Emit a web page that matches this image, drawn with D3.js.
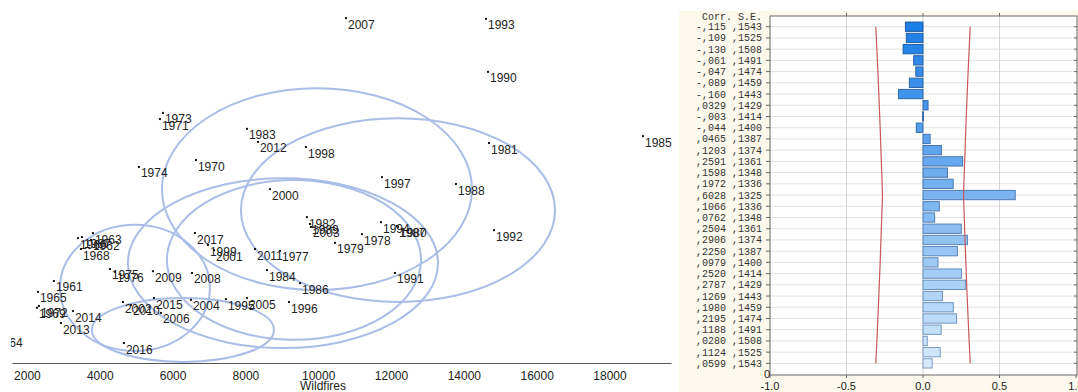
<!DOCTYPE html>
<html>
<head>
<meta charset="utf-8">
<script src="https://cdn.jsdelivr.net/npm/d3@7"></script>
<style>
  html, body { margin: 0; padding: 0; background: #fff; }
  svg { display: block; }
</style>
</head>
<body>
<svg id="chart" width="1078" height="392"></svg>
<script>
// ---------- Scatter: wildfires by year ----------
const years = d3.range(1961, 2018);
const wildfires = [
  2742, 3758, 3813, 1093, 2302, 3401, 3511, 3483, 2275, 6642,
  5653, 2329, 5736, 5076, 4280, 4417, 8950, 11202, 10461, 12191,
  14691, 9691, 8043, 8593, 18921, 9499, 12164, 13784, 9774, 14664,
  12109, 14828, 14609, 11724, 7466, 9197, 11752, 9664, 6972, 8675,
  7137, 4637, 9801, 6505, 8043, 5681, 10763, 6532, 5461, 4857,
  8263, 8345, 2934, 3263, 5488, 4664, 6615
];
const secondScore = [
  22.6, 33.9, 35.8, 7.2, 19.6, 34.4, 34.7, 31.4, 15.2, 55.9,
  67.2, 15.7, 68.9, 54.0, 25.9, 25.1, 30.9, 35.5, 33.1, 37.5,
  60.6, 40.2, 64.5, 25.6, 62.5, 22.0, 37.7, 49.3, 38.3, 80.2,
  24.8, 36.6, 94.8, 38.8, 17.6, 16.8, 51.2, 59.5, 32.5, 47.9,
  31.1, 16.8, 37.5, 17.4, 17.9, 13.8, 95.0, 24.8, 25.3, 16.0,
  31.4, 60.9, 11.0, 14.3, 17.9, 5.5, 35.8
];
const xTicks = [2000, 4000, 6000, 8000, 10000, 12000, 14000, 16000, 18000];

// Cluster ellipses (centre and radii in data units)
const ellCx = [9966, 12191, 9032, 9334, 4967, 6285];
const ellCy = [47.9, 42.1, 27.5, 28.4, 20.7, 9.1];
const ellRx = [4258, 4313, 4258, 3489, 2060, 2500];
const ellRy = [27.8, 25.3, 23.4, 22.0, 17.4, 8.8];

// ---------- Cross-correlation panel ----------
const lags = d3.range(-15, 16);
const corrLabels = ["-,115","-,109","-,130","-,061","-,047","-,089","-,160",",0329","-,003","-,044",
  ",0465",",1203",",2591",",1598",",1972",",6028",",1066",",0762",",2504",",2906",
  ",2250",",0979",",2520",",2787",",1269",",1980",",2195",",1188",",0280",",1124",",0599"];
const seLabels = [",1543",",1525",",1508",",1491",",1474",",1459",",1443",",1429",",1414",",1400",
  ",1387",",1374",",1361",",1348",",1336",",1325",",1336",",1348",",1361",",1374",
  ",1387",",1400",",1414",",1429",",1443",",1459",",1474",",1491",",1508",",1525",",1543"];
const corrTicks = [-1.0, -0.5, 0.0, 0.5, 1.0];

const parseComma = s => +s.replace(",", ".");
const corr = corrLabels.map(parseComma);
const se = seLabels.map(parseComma);

const svg = d3.select("#chart");
const sans = "'Liberation Sans', Arial, Helvetica, sans-serif";
const mono = "'Liberation Mono', 'Courier New', monospace";

// ===== Left: scatter =====
const x = d3.scaleLinear().domain([1590, 19690]).range([12, 671]);
const y = d3.scaleLinear().domain([0, 100]).range([363, 0]);

svg.append("defs").append("clipPath").attr("id", "plotClip")
  .append("rect").attr("x", 11).attr("y", 0).attr("width", 669).attr("height", 363);

const scatter = svg.append("g").attr("clip-path", "url(#plotClip)");

scatter.selectAll("ellipse")
  .data(d3.range(ellCx.length))
  .join("ellipse")
  .attr("cx", i => x(ellCx[i]))
  .attr("cy", i => y(ellCy[i]))
  .attr("rx", i => x(ellCx[i] + ellRx[i]) - x(ellCx[i]))
  .attr("ry", i => y(ellCy[i]) - y(ellCy[i] + ellRy[i]))
  .attr("fill", "none")
  .attr("stroke", "#a9bde6")
  .attr("stroke-width", 2);

const pts = years.map((yr, i) => ({ yr, w: wildfires[i], s: secondScore[i] }));

scatter.selectAll("rect.pt")
  .data(pts)
  .join("rect")
  .attr("class", "pt")
  .attr("x", d => x(d.w) - 1)
  .attr("y", d => y(d.s) - 1)
  .attr("width", 2)
  .attr("height", 2)
  .attr("fill", "#111");

scatter.selectAll("text.lbl")
  .data(pts)
  .join("text")
  .attr("class", "lbl")
  .attr("x", d => x(d.w) + 2)
  .attr("y", d => y(d.s) + 10.5)
  .attr("font-family", sans)
  .attr("font-size", 12)
  .attr("fill", "#222")
  .text(d => d.yr);

const xAxis = svg.append("g")
  .attr("transform", "translate(0,363)")
  .call(d3.axisBottom(x).tickValues(xTicks).tickSize(0).tickSizeOuter(0).tickPadding(8).tickFormat(d3.format("d")));
xAxis.select(".domain").attr("stroke", "#555").attr("stroke-width", 1);
xAxis.selectAll("text").attr("font-family", sans).attr("font-size", 12).attr("fill", "#222");

svg.append("text")
  .attr("x", 323).attr("y", 390)
  .attr("text-anchor", "middle")
  .attr("font-family", sans).attr("font-size", 12).attr("fill", "#222")
  .text("Wildfires");

// ===== Right: cross-correlation bars =====
const panel = svg.append("g");
panel.append("rect")
  .attr("x", 679).attr("y", 11).attr("width", 399).attr("height", 381)
  .attr("fill", "#fcf8eb");

const pLeft = 770, pRight = 1077, pTop = 16, pBottom = 375;
const cx = d3.scaleLinear().domain([-1, 1]).range([pLeft, 1076]);
const cy = d3.scaleBand().domain(lags).range([21.1, 369.0]).paddingInner(0.17).paddingOuter(0.085);
const rowC = l => cy(l) + cy.bandwidth() / 2;

panel.append("rect")
  .attr("x", pLeft).attr("y", pTop).attr("width", pRight - pLeft).attr("height", pBottom - pTop)
  .attr("fill", "#fff");

// grid lines
panel.selectAll("line.hg")
  .data(lags)
  .join("line")
  .attr("class", "hg")
  .attr("x1", pLeft).attr("x2", pRight)
  .attr("y1", rowC).attr("y2", rowC)
  .attr("stroke", "#e2e2e2").attr("stroke-width", 1);

panel.selectAll("line.vg")
  .data([-0.5, 0, 0.5])
  .join("line")
  .attr("class", "vg")
  .attr("x1", d => cx(d)).attr("x2", d => cx(d))
  .attr("y1", pTop).attr("y2", pBottom)
  .attr("stroke", "#d6d6d6").attr("stroke-width", 1);

// bars
const fillCol = d3.interpolateRgb("#1b7de6", "#d6eafb");
const strokeCol = d3.interpolateRgb("#1d5aa0", "#7f9ec6");
panel.selectAll("rect.bar")
  .data(lags.map((l, i) => ({ l, i, c: corr[i] })))
  .join("rect")
  .attr("class", "bar")
  .attr("x", d => cx(Math.min(0, d.c)))
  .attr("y", d => cy(d.l))
  .attr("width", d => Math.max(1, Math.abs(cx(d.c) - cx(0))))
  .attr("height", cy.bandwidth())
  .attr("fill", d => fillCol(d.i / (lags.length - 1)))
  .attr("stroke", d => strokeCol(d.i / (lags.length - 1)))
  .attr("stroke-width", 1);

// ±2 S.E. confidence limits
const limLine = sign => d3.line()
  .x((l, i) => cx(sign * 2 * se[i]))
  .y(l => rowC(l));
[-1, 1].forEach(sg => {
  panel.append("path")
    .attr("d", limLine(sg)(lags))
    .attr("fill", "none")
    .attr("stroke", "#c8585c")
    .attr("stroke-width", 1.2);
});

// frame
panel.append("rect")
  .attr("x", pLeft).attr("y", pTop).attr("width", pRight - pLeft).attr("height", pBottom - pTop)
  .attr("fill", "none").attr("stroke", "#666").attr("stroke-width", 1);

// ticks
panel.selectAll("line.lt")
  .data(lags)
  .join("line")
  .attr("class", "lt")
  .attr("x1", pLeft - 4).attr("x2", pLeft)
  .attr("y1", rowC).attr("y2", rowC)
  .attr("stroke", "#666");
panel.selectAll("line.rt")
  .data(lags)
  .join("line")
  .attr("class", "rt")
  .attr("x1", pRight - 3).attr("x2", pRight)
  .attr("y1", rowC).attr("y2", rowC)
  .attr("stroke", "#666");
panel.selectAll("line.tt")
  .data([-0.5, 0, 0.5])
  .join("line")
  .attr("class", "tt")
  .attr("x1", d => cx(d)).attr("x2", d => cx(d))
  .attr("y1", pTop - 3).attr("y2", pTop)
  .attr("stroke", "#666");
panel.selectAll("line.bt")
  .data(corrTicks)
  .join("line")
  .attr("class", "bt")
  .attr("x1", d => cx(d)).attr("x2", d => cx(d))
  .attr("y1", pBottom).attr("y2", pBottom + 3)
  .attr("stroke", "#666");

// row labels
panel.append("text")
  .attr("x", 762).attr("y", 19.5)
  .attr("text-anchor", "end")
  .attr("font-family", mono).attr("font-size", 10).attr("fill", "#333")
  .text("Corr. S.E.");
panel.selectAll("text.row")
  .data(lags.map((l, i) => ({ l, i })))
  .join("text")
  .attr("class", "row")
  .attr("x", 762)
  .attr("y", d => rowC(d.l) + 3.5)
  .attr("text-anchor", "end")
  .attr("font-family", mono).attr("font-size", 10).attr("fill", "#333")
  .text(d => corrLabels[d.i] + " " + seLabels[d.i]);

panel.append("text")
  .attr("x", 767).attr("y", 378)
  .attr("text-anchor", "middle")
  .attr("font-family", sans).attr("font-size", 11).attr("fill", "#222")
  .text("0");

panel.selectAll("text.ct")
  .data(corrTicks)
  .join("text")
  .attr("class", "ct")
  .attr("x", d => cx(d))
  .attr("y", 390)
  .attr("text-anchor", "middle")
  .attr("font-family", sans).attr("font-size", 11).attr("fill", "#222")
  .text(d => d.toFixed(1));
</script>
</body>
</html>
